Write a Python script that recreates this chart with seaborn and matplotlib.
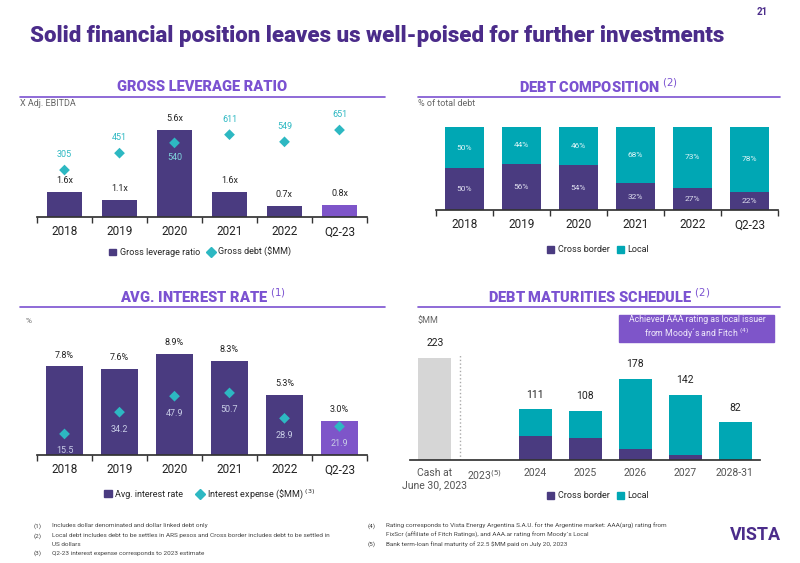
import matplotlib
matplotlib.use("Agg")
import matplotlib.pyplot as plt
import seaborn as sns
import pandas as pd
from matplotlib.patches import Patch, Rectangle
from matplotlib.lines import Line2D

sns.set_theme(style="white")
plt.rcParams['font.family'] = ['Roboto', 'DejaVu Sans']

years = ["2018", "2019", "2020", "2021", "2022", "Q2-23"]
leverage = [1.6, 1.1, 5.6, 1.6, 0.7, 0.8]
gross_debt = [305, 451, 540, 611, 549, 651]
cross_share = [50, 56, 54, 32, 27, 22]
local_share = [50, 44, 46, 68, 73, 78]
int_rate = [7.8, 7.6, 8.9, 8.3, 5.3, 3.0]
int_exp = [15.5, 34.2, 47.9, 50.7, 28.9, 21.9]
mat_cats = ["Cash at\nJune 30, 2023", "2023$^{(5)}$", "2024", "2025", "2026", "2027", "2028-31"]
mat_cash = [223, 0, 0, 0, 0, 0, 0]
mat_cross = [0, 0, 53, 48, 25, 12, 0]
mat_local = [0, 0, 58, 60, 153, 130, 82]

DARK = "#4A3B80"
LIGHT = "#7E55C9"
TEAL = "#00A7B4"
CYAN = "#2DB8C2"
TITLE = "#7B52D1"
HEAD = "#4B2C8A"
GREY = "#D6D6D6"

W, H = 800, 563
fig = plt.figure(figsize=(8, 5.63), dpi=100)

def ax_px(x0, y0, x1, y1):
    return fig.add_axes([x0 / W, 1 - y1 / H, (x1 - x0) / W, (y1 - y0) / H])

def ftext(x, y, s, **kw):
    fig.text(x / W, 1 - y / H, s, **kw)

def header(x0, x1, y, s):
    ftext((x0 + x1) / 2, y, s, ha="center", va="center", fontsize=10.5, fontweight="heavy", color=TITLE)
    fig.add_artist(Line2D([x0 / W, x1 / W], [1 - (y + 10) / H] * 2, color=TITLE, lw=1.2))

def style(ax, n):
    for s in ["top", "right", "left"]:
        ax.spines[s].set_visible(False)
    ax.spines["bottom"].set_color("#333333")
    ax.set_yticks([])
    ax.set_xlabel(""); ax.set_ylabel("")
    ax.set_xlim(-0.5, n - 0.5)
    ax.set_xticks([i - 0.5 for i in range(n + 1)], minor=True)
    ax.tick_params(axis="x", which="minor", length=4, color="#333333", bottom=True, direction="out")
    ax.tick_params(axis="x", which="major", length=0, labelsize=8.5, labelcolor="#222222", pad=6)
    ax.set_facecolor("none")

BK = dict(linewidth=0, saturation=1)

# Title
ftext(30, 36, "Solid financial position leaves us well-poised for further investments",
      fontsize=16, fontweight="heavy", color=HEAD, va="center")
ftext(762, 12, "21", fontsize=7, fontweight="bold", color=HEAD, va="center", ha="center")

bar_colors = [DARK] * 5 + [LIGHT]

# Panel 1
header(20, 385, 87, "GROSS LEVERAGE RATIO")
ftext(20, 104, "X Adj. EBITDA", fontsize=6.5, color="#666666", va="center")
ax1 = ax_px(37, 115, 367, 217)
df1 = pd.DataFrame({"year": years, "lev": leverage, "debt": gross_debt})
sns.barplot(data=df1, x="year", y="lev", hue="year", palette=bar_colors, legend=False, width=0.65, ax=ax1, **BK)
ax1.set_ylim(0, 6.57)
style(ax1, 6)
for i, v in enumerate(leverage):
    ax1.annotate(f"{v}x", (i, v), xytext=(0, 5), textcoords="offset points", ha="center", va="bottom", fontsize=6.5, color="#222222")
t1 = ax1.twinx()
sns.scatterplot(data=df1, x="year", y="debt", marker="D", s=30, color=CYAN, edgecolor="none", ax=t1, zorder=5)
t1.set_ylim(-101, 781)
t1.axis("off")
for i, v in enumerate(gross_debt):
    if i == 2:
        t1.annotate(str(v), (i, v), xytext=(0, -7), textcoords="offset points", ha="center", va="top", fontsize=6.5, color="#7FD6DD")
    else:
        t1.annotate(str(v), (i, v), xytext=(0, 8), textcoords="offset points", ha="center", va="bottom", fontsize=6.5, color=CYAN)
fig.legend(handles=[Patch(color=DARK, label="Gross leverage ratio"),
                    Line2D([], [], marker="D", ls="", color=CYAN, markersize=5, label="Gross debt (\\$MM)")],
           loc="center", bbox_to_anchor=(200 / W, 1 - 252 / H), ncol=2, frameon=False, fontsize=6.5,
           handlelength=0.8, handletextpad=0.4, columnspacing=0.8)

# Panel 2
header(418, 780, 87, "DEBT COMPOSITION $^{(2)}$")
ftext(418, 104, "% of total debt", fontsize=6.5, color="#666666", va="center")
ax2 = ax_px(436, 127, 778, 210)
df2 = pd.DataFrame({"year": years, "cross": cross_share, "total": [c + l for c, l in zip(cross_share, local_share)]})
sns.barplot(data=df2, x="year", y="total", color=TEAL, width=0.67, ax=ax2, **BK)
sns.barplot(data=df2, x="year", y="cross", color=DARK, width=0.67, ax=ax2, **BK)
ax2.set_ylim(0, 100)
style(ax2, 6)
for i, (c, l) in enumerate(zip(cross_share, local_share)):
    ax2.text(i, c / 2, f"{c}%", ha="center", va="center", fontsize=6, color="#DDDDEE")
    ax2.text(i, c + l / 2, f"{l}%", ha="center", va="center", fontsize=6, color="#DDF5F7")
fig.legend(handles=[Patch(color=DARK, label="Cross border"), Patch(color=TEAL, label="Local")],
           loc="center", bbox_to_anchor=(598 / W, 1 - 250 / H), ncol=2, frameon=False, fontsize=6.5,
           handlelength=0.8, handletextpad=0.4, columnspacing=0.8)

# Panel 3
header(20, 385, 297, "AVG. INTEREST RATE $^{(1)}$")
ftext(26, 321, "%", fontsize=6, color="#666666", va="center")
ax3 = ax_px(37, 340, 367, 455)
df3 = pd.DataFrame({"year": years, "rate": int_rate, "exp": int_exp})
sns.barplot(data=df3, x="year", y="rate", hue="year", palette=bar_colors, legend=False, width=0.67, ax=ax3, **BK)
ax3.set_ylim(0, 8.9 * 115 / 101)
style(ax3, 6)
for i, v in enumerate(int_rate):
    ax3.annotate(f"{v}%", (i, v), xytext=(0, 5), textcoords="offset points", ha="center", va="bottom", fontsize=6.5, color="#222222")
t3 = ax3.twinx()
sns.scatterplot(data=df3, x="year", y="exp", marker="D", s=30, color=CYAN, edgecolor="none", ax=t3, zorder=5)
t3.set_ylim(-3 / 1.165, (115 - 3) / 1.165)
t3.axis("off")
for i, v in enumerate(int_exp):
    t3.annotate(str(v), (i, v), xytext=(0, -9), textcoords="offset points", ha="center", va="top", fontsize=6.5, color="#C8CDE6")
fig.legend(handles=[Patch(color=DARK, label="Avg. interest rate"),
                    Line2D([], [], marker="D", ls="", color=CYAN, markersize=5, label="Interest expense (\\$MM) $^{(3)}$")],
           loc="center", bbox_to_anchor=(210 / W, 1 - 494 / H), ncol=2, frameon=False, fontsize=6.5,
           handlelength=0.8, handletextpad=0.4, columnspacing=1.5)

# Panel 4
header(418, 780, 297, "DEBT MATURITIES SCHEDULE $^{(2)}$")
ftext(418, 321, "$MM", fontsize=6.5, color="#666666", va="center")
ax4 = ax_px(410, 340, 760, 460)
df4 = pd.DataFrame({"cat": mat_cats, "cash": mat_cash, "cross": mat_cross,
                    "total": [a + b for a, b in zip(mat_cross, mat_local)]})
sns.barplot(data=df4, x="cat", y="cash", color=GREY, width=0.66, ax=ax4, **BK)
sns.barplot(data=df4, x="cat", y="total", color=TEAL, width=0.66, ax=ax4, **BK)
sns.barplot(data=df4, x="cat", y="cross", color=DARK, width=0.66, ax=ax4, **BK)
ax4.set_ylim(0, 223 * 120 / 102)
style(ax4, 7)
ax4.tick_params(axis="x", which="minor", length=0)
ax4.tick_params(axis="x", which="major", labelsize=7.5, labelcolor="#555555")
ax4.axvline(0.5, ymax=0.88, color="#AAAAAA", ls=":", lw=1)
for i in range(7):
    tot = mat_cash[i] + mat_cross[i] + mat_local[i]
    if tot > 0:
        ax4.annotate(str(tot), (i, tot), xytext=(0, 7), textcoords="offset points", ha="center", va="bottom", fontsize=7.5, color="#222222")
fig.add_artist(Rectangle((619 / W, 1 - 342 / H), 155 / W, 27 / H, color=LIGHT, transform=fig.transFigure))
ftext(697, 328, "Achieved AAA rating as local issuer\nfrom Moody´s and Fitch $^{(4)}$", ha="center", va="center",
      fontsize=6.3, color="#F0EAFB", linespacing=1.3)
fig.legend(handles=[Patch(color=DARK, label="Cross border"), Patch(color=TEAL, label="Local")],
           loc="center", bbox_to_anchor=(598 / W, 1 - 496 / H), ncol=2, frameon=False, fontsize=6.5,
           handlelength=0.8, handletextpad=0.4, columnspacing=0.8)

# Footnotes
notes_l = [(526, "(1)", "Includes dollar denominated and dollar linked debt only"),
           (536, "(2)", "Local debt includes debt to be settles in ARS pesos and Cross border includes debt to be settled in"),
           (544, "", "US dollars"),
           (553, "(3)", "Q2-23 interest expense corresponds to 2023 estimate")]
for y, a, b in notes_l:
    ftext(34, y, a, fontsize=4.6, color="#444444", va="center")
    ftext(52, y, b, fontsize=4.6, color="#444444", va="center")
notes_r = [(526, "(4)", "Rating corresponds to Vista Energy Argentina S.A.U. for the Argentine market: AAA(arg) rating from"),
           (535, "", "FixScr (affiliate of Fitch Ratings), and AAA.ar rating from Moody´s Local"),
           (544, "(5)", "Bank term-loan final maturity of 22.5 \\$MM paid on July 20, 2023")]
for y, a, b in notes_r:
    ftext(368, y, a, fontsize=4.6, color="#444444", va="center")
    ftext(386, y, b, fontsize=4.6, color="#444444", va="center")
ftext(755, 535, "VISTA", fontsize=13, fontweight="bold", color=HEAD, va="center", ha="center")

fig.savefig("out.png", dpi=100)
